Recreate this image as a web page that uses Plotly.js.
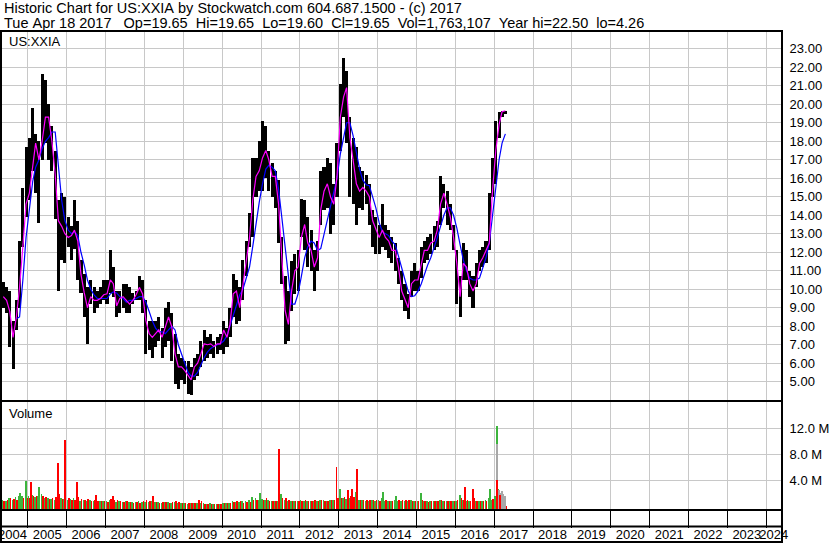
<!DOCTYPE html>
<html><head><meta charset="utf-8">
<script src="https://cdn.plot.ly/plotly-3.0.1.min.js"></script>
<style>html,body{margin:0;padding:0;background:#fff;} #chart{width:830px;height:543px;}</style>
</head><body><div id="chart"></div>
<script>
// ---------- data (monthly, first month = May 2004) ----------
const firstYear = 2004, firstMonth = 5;
const priceHigh = [
 10.4,10.1,9.9,8.3,9.4,12.6,15.5,17.7,
 18.2,19.8,18.4,18.0,21.65,21.3,20.0,18.8,17.5,14.8,15.2,15.0,
 13.9,13.4,14.8,13.7,11.6,10.8,10.1,10.5,10.1,9.9,10.1,10.5,
 10.5,12.1,11.2,9.9,9.9,10.3,10.3,10.1,9.8,9.9,10.7,10.5,
 9.4,8.3,8.3,8.3,8.5,7.9,9.0,9.3,8.7,7.6,6.5,6.3,
 6.1,6.1,5.8,6.3,6.5,7.2,7.8,7.4,7.6,7.2,7.4,7.6,
 8.3,7.9,9.0,10.8,10.5,10.1,11.6,12.6,14.1,17.1,17.1,18.0,
 19.1,18.8,17.5,16.8,16.4,15.9,12.8,10.7,9.9,11.5,11.9,12.1,
 14.9,14.8,13.9,13.2,12.1,12.6,16.4,16.6,17.1,16.8,15.7,17.9,
 21.1,22.5,21.8,19.3,18.2,17.7,16.6,16.4,16.2,15.7,14.3,13.9,
 13.5,14.6,13.5,13.2,12.8,12.5,11.7,11.0,10.3,9.75,11.0,11.4,
 11.0,12.3,12.6,12.8,13.0,13.4,13.7,16.1,15.7,15.3,14.6,13.5,
 12.1,10.7,12.5,12.1,11.0,10.7,11.4,12.1,12.3,12.6,15.2,17.1,
 19.1,19.6,19.65,19.65
];
const priceLow = [
 9.0,8.7,6.9,5.7,7.8,9.0,12.3,13.9,
 14.8,16.4,15.2,13.6,17.0,17.9,17.0,16.4,13.8,9.9,11.6,11.4,
 12.3,11.6,12.2,10.5,9.8,8.5,7.05,9.2,8.7,9.0,9.2,9.4,
 9.2,9.8,9.6,8.5,8.7,9.0,8.7,8.7,9.2,9.4,9.4,8.7,
 6.5,6.7,6.3,6.9,7.2,6.3,6.9,7.2,6.1,4.9,4.6,5.1,
 4.9,4.35,4.26,5.1,5.3,5.8,6.1,6.3,6.5,6.3,6.5,6.7,
 6.5,6.9,7.4,8.5,8.1,8.3,9.4,10.7,12.3,12.8,15.0,15.3,
 15.3,16.0,15.3,15.0,14.4,12.5,10.3,7.05,7.2,8.85,9.75,9.9,
 12.8,12.1,11.2,11.0,9.9,11.0,13.5,14.3,14.4,13.0,13.5,15.0,
 17.5,19.3,17.9,15.0,14.6,13.5,14.4,14.3,14.6,13.5,12.3,11.9,
 11.9,12.3,12.1,11.7,11.4,11.0,10.3,9.4,8.85,8.4,9.6,9.9,
 9.9,10.6,11.4,11.6,11.9,12.1,12.3,13.5,14.4,13.5,13.2,12.1,
 9.2,8.5,10.5,10.5,9.6,9.0,10.1,11.0,11.2,11.4,12.1,15.0,
 15.7,18.2,19.3,19.5
];
const maFast = [
 9.6,9.4,8.8,7.4,8.5,10.1,12.3,14.6,
 15.2,16.6,17.9,17.0,18.0,19.3,19.3,18.0,16.2,13.7,13.4,13.0,
 12.8,12.9,13.2,12.6,10.8,9.8,9.0,9.6,9.4,9.4,9.5,9.7,
 9.75,10.5,10.3,9.1,9.5,9.6,9.4,9.2,9.4,9.7,10.1,9.75,
 8.3,7.6,7.4,7.6,7.8,7.4,7.95,8.5,7.95,6.5,5.8,5.8,
 5.6,5.3,5.1,5.8,6.0,6.5,7.05,7.0,7.05,6.9,7.05,7.05,
 7.8,7.4,8.1,9.75,9.9,9.0,10.3,11.4,12.8,14.8,16.1,16.4,
 17.1,17.5,17.0,16.1,16.1,14.6,11.9,8.85,8.1,9.9,11.0,11.2,
 12.8,13.5,12.5,12.1,11.2,11.7,14.3,15.3,15.7,15.0,14.6,16.1,
 19.3,20.4,20.9,18.2,17.0,15.7,15.3,15.5,15.3,15.0,13.7,13.2,
 12.8,13.2,12.8,12.6,12.1,12.1,11.2,9.9,9.4,9.0,10.3,10.5,
 10.5,11.4,12.1,12.1,12.5,12.6,13.2,14.6,15.2,14.6,13.9,12.8,
 11.4,9.6,11.4,11.2,10.3,9.9,10.3,11.4,11.7,12.1,12.5,15.3,
 17.5,18.9,19.6,19.65
];
const maSlow = [
 null,null,null,null,8.4,8.5,10.5,12.8,
 14.3,15.8,16.6,17.0,17.6,18.0,18.2,18.5,18.5,16.6,14.8,13.7,
 13.2,13.0,13.1,12.9,12.0,11.3,10.5,10.0,9.7,9.5,9.5,9.5,
 9.5,9.75,9.85,9.8,9.6,9.5,9.3,9.4,9.4,9.5,9.6,9.6,
 9.3,8.8,8.3,7.9,7.7,7.7,7.6,7.8,8.0,7.8,7.0,6.5,
 6.0,5.5,5.3,5.3,5.5,5.9,6.3,6.6,6.8,6.9,7.0,7.05,
 7.2,7.5,8.0,8.6,9.2,9.7,10.0,10.6,11.2,12.3,13.6,14.7,
 15.7,16.5,16.7,16.6,16.4,15.4,13.9,12.2,10.7,9.2,9.2,9.75,
 10.7,11.7,12.3,12.6,12.5,12.1,12.2,13.0,13.8,14.5,15.2,16.0,
 17.3,18.2,19.0,19.0,18.3,17.4,16.5,15.9,15.65,15.6,15.0,14.4,
 13.6,13.1,13.0,12.9,12.6,12.4,11.8,11.1,10.5,9.9,9.6,9.65,
 9.9,10.3,10.8,11.3,11.7,12.2,12.8,13.4,14.0,14.4,14.4,14.0,
 13.3,12.4,11.6,11.0,10.6,10.5,10.5,10.6,11.1,11.7,12.5,14.0,
 15.6,17.0,17.9,18.4
];
// volume, millions (typical level of up days / down days in each month)
const volUp = [
 0.9,0.8,1.2,1.0,1.4,1.6,1.5,1.8,
 1.5,1.7,1.4,1.6,1.9,1.3,1.2,1.1,1.0,1.4,1.2,1.1,
 1.0,1.1,1.3,1.0,0.8,0.9,0.8,0.9,0.8,0.9,0.8,0.7,
 0.7,0.9,0.8,0.6,0.7,0.6,0.7,0.6,0.6,0.6,0.7,0.6,
 0.6,0.6,0.7,0.6,0.6,0.5,0.6,0.6,0.5,0.6,0.5,0.4,
 0.4,0.3,0.4,0.4,0.4,0.4,0.4,0.3,0.4,0.3,0.3,0.3,
 0.5,0.4,0.5,0.8,0.6,0.6,0.7,0.8,0.9,1.4,1.2,1.0,
 1.1,1.0,0.9,0.8,0.8,0.7,0.9,1.0,0.8,0.8,0.7,0.7,
 0.9,0.8,0.7,0.7,0.7,0.8,1.0,0.9,0.8,0.9,0.9,1.0,
 1.5,1.3,1.1,1.2,1.0,1.3,0.9,0.9,0.8,0.8,0.9,0.8,
 0.9,1.2,0.8,0.8,0.7,0.9,0.7,0.8,0.7,0.8,0.9,0.8,
 0.7,1.1,0.8,0.8,0.7,0.7,0.8,0.9,0.8,0.8,0.7,0.7,
 0.8,1.0,0.9,0.8,0.7,0.8,0.7,0.7,0.8,0.9,1.2,1.0,
 1.5,1.2,0,0
];
const volDown = [
 0.7,0.9,1.3,1.1,0.9,1.0,1.2,1.3,
 1.3,1.5,1.6,1.3,1.5,1.4,1.1,1.3,1.4,1.8,1.1,1.6,
 1.2,0.9,1.0,1.4,1.1,0.9,1.1,0.8,1.0,0.8,0.7,0.8,
 0.6,1.1,1.0,0.9,0.7,0.6,0.7,0.6,0.5,0.6,0.5,0.7,
 0.9,0.7,0.8,0.6,0.5,0.6,0.6,0.5,0.6,0.7,0.6,0.4,
 0.4,0.4,0.4,0.4,0.4,0.7,0.3,0.3,0.3,0.3,0.3,0.3,
 0.5,0.4,0.4,0.6,0.8,0.7,0.5,0.6,0.6,0.9,1.0,1.0,
 1.0,1.2,0.8,0.8,0.8,1.1,1.2,1.2,0.9,0.8,0.8,0.7,
 0.8,0.9,0.8,0.8,0.9,0.8,0.9,0.8,0.8,1.0,0.9,1.2,
 1.3,1.4,1.6,1.5,1.4,1.6,1.0,0.9,1.0,1.0,1.0,0.9,
 0.8,0.9,0.9,0.8,0.8,0.7,0.9,0.9,0.9,1.0,0.7,0.8,
 0.8,0.9,0.7,0.6,0.7,0.7,0.7,0.9,0.8,0.7,0.7,0.8,
 1.0,1.2,1.0,0.9,0.8,1.2,0.8,0.8,0.7,0.8,1.1,1.1,
 1.2,1.0,0,0
];
const spikeUpDates = ['2004-10-20','2004-12-15','2005-04-12','2010-12-20','2011-07-05','2013-01-08','2013-06-10','2014-02-20','2014-06-25','2015-02-15','2016-02-10','2016-11-20','2017-01-30','2017-02-08'];
const spikeUpVols  = [2.0,3.9,3.0,2.0,1.9,2.7,2.2,2.1,1.6,2.0,1.7,2.6,12.3,2.6];
const spikeDownDates = ['2005-02-01','2005-10-10','2005-12-18','2006-04-10','2006-10-01','2007-03-10','2008-03-20','2009-06-01','2011-06-18','2012-12-10','2013-03-28','2013-05-05','2013-06-25','2016-03-28','2016-06-18','2017-01-30','2017-02-20'];
const spikeDownVols  = [3.7,6.7,10.2,3.7,1.7,1.6,1.6,1.0,8.8,6.0,2.4,2.6,5.7,2.9,2.6,4.0,1.7];
const grayDates = ['2017-01-30','2017-02-14','2017-02-28','2017-03-12','2017-03-26','2017-04-08'];
const grayVols  = [9.5,2.4,2.0,2.3,1.8,1.6];

const priceTicks = [5,6,7,8,9,10,11,12,13,14,15,16,17,18,19,20,21,22,23];
const volTicks = [4,8,12];
const yearLabels = ['2004','2005','2006','2007','2008','2009','2010','2011','2012','2013','2014','2015','2016','2017','2018','2019','2020','2021','2022','2023','2024'];
const yearLabelDates = ['2004-08-10','2005-07-02','2006-07-02','2007-07-02','2008-07-02','2009-07-02','2010-07-02','2011-07-02','2012-07-02','2013-07-02','2014-07-02','2015-07-02','2016-07-02','2017-07-02','2018-07-02','2019-07-02','2020-07-02','2021-07-02','2022-07-02','2023-07-02','2024-03-10'];
const headerLine1 = 'Historic Chart for US:XXIA by Stockwatch.com 604.687.1500 - (c) 2017';
const headerLine2 = 'Tue Apr 18 2017   Op=19.65  Hi=19.65  Lo=19.60  Cl=19.65  Vol=1,763,107  Year hi=22.50  lo=4.26';

// ---------- helpers ----------
function monthDate(i, day){
  const mi = firstMonth - 1 + i;
  const y = firstYear + Math.floor(mi/12), m = mi%12 + 1;
  return y + '-' + String(m).padStart(2,'0') + '-' + String(day).padStart(2,'0');
}
const DAY = 86400000;
const VOL_MIN = -0.46, VOL_MAX = 16.05;
const mid = priceHigh.map((_, i) => monthDate(i, 15));
const upX = volUp.map((_, i) => monthDate(i, 8));
const dnX = volDown.map((_, i) => monthDate(i, 22));
const M = 1e6;
const regular = 'Liberation Sans, Arial, sans-serif';

const traces = [
  {type:'bar', x:mid, y:priceHigh.map((h,i)=>h-priceLow[i]), base:priceLow, width:29*DAY,
   marker:{color:'#000', line:{width:0}}, xaxis:'x', yaxis:'y', hoverinfo:'skip'},
  {type:'scatter', mode:'lines', x:mid, y:maSlow, line:{color:'#0000ff', width:1.2}, xaxis:'x', yaxis:'y', connectgaps:false, hoverinfo:'skip'},
  {type:'scatter', mode:'lines', x:mid, y:maFast, line:{color:'#ff00ff', width:1.2}, xaxis:'x', yaxis:'y', hoverinfo:'skip'},
  {type:'bar', x:upX, y:volUp.map(v=>v*M - VOL_MIN*M), base:VOL_MIN*M, width:14*DAY, marker:{color:'#3cb43c', line:{width:0}}, xaxis:'x2', yaxis:'y2', hoverinfo:'skip'},
  {type:'bar', x:dnX, y:volDown.map(v=>v*M - VOL_MIN*M), base:VOL_MIN*M, width:14*DAY, marker:{color:'#ff0000', line:{width:0}}, xaxis:'x2', yaxis:'y2', hoverinfo:'skip'},
  {type:'bar', x:spikeUpDates, y:spikeUpVols.map(v=>v*M - VOL_MIN*M), base:VOL_MIN*M, width:18*DAY, marker:{color:'#3cb43c', line:{width:0}}, xaxis:'x2', yaxis:'y2', hoverinfo:'skip'},
  {type:'bar', x:grayDates, y:grayVols.map(v=>v*M - VOL_MIN*M), base:VOL_MIN*M, width:18*DAY, marker:{color:'#a8a8a8', line:{width:0}}, xaxis:'x2', yaxis:'y2', hoverinfo:'skip'},
  {type:'bar', x:spikeDownDates, y:spikeDownVols.map(v=>v*M - VOL_MIN*M), base:VOL_MIN*M, width:18*DAY, marker:{color:'#ff0000', line:{width:0}}, xaxis:'x2', yaxis:'y2', hoverinfo:'skip'}
];

const PLOT_BOTTOM = 509, PLOT_H = 477;
const py = p => (PLOT_BOTTOM - p) / PLOT_H;
const gridc = '#c8c8c8';
const tickFont = {family:regular, size:13, color:'#000'};
const layout = {
  width:830, height:543,
  margin:{l:2, r:49, t:32, b:34, pad:0},
  paper_bgcolor:'#fff', plot_bgcolor:'#fff',
  showlegend:false, barmode:'overlay', bargap:0,
  font:{family:regular, color:'#000'},
  xaxis:{type:'date', range:['2004-05-03','2024-05-18'], anchor:'y', showticklabels:false, ticks:'',
         tick0:'2005-01-01', dtick:'M12', showgrid:true, gridcolor:gridc, gridwidth:1,
         showline:true, linecolor:'#000', linewidth:2, mirror:true, zeroline:false},
  xaxis2:{type:'date', matches:'x', anchor:'y2', tickmode:'array', tickvals:yearLabelDates, ticktext:yearLabels,
          ticks:'', showgrid:false, ticklabelstandoff:12, ticklabeloverflow:'allow', tickangle:0,
          tickfont:tickFont,
          minor:{tick0:'2005-01-01', dtick:'M12', showgrid:true, gridcolor:gridc, gridwidth:1, ticks:'outside', ticklen:17, tickcolor:'#000', tickwidth:1},
          showline:true, linecolor:'#000', linewidth:2, mirror:true, zeroline:false},
  yaxis:{domain:[py(400),1], range:[4.012,23.907], side:'right', tickmode:'array', tickvals:priceTicks,
         ticktext:priceTicks.map(v=>v.toFixed(2)), ticks:'', ticklabelstandoff:4,
         tickfont:tickFont,
         showgrid:true, gridcolor:gridc, gridwidth:1, showline:true, linecolor:'#000', linewidth:2, mirror:true, zeroline:false},
  yaxis2:{domain:[0,py(402)], range:[VOL_MIN*M, VOL_MAX*M], side:'right', tickmode:'array', tickvals:volTicks.map(v=>v*M),
          ticktext:volTicks.map(v=>v.toFixed(1)+' M'), ticks:'', ticklabelstandoff:4,
          tickfont:tickFont,
          showgrid:true, gridcolor:gridc, gridwidth:1, showline:true, linecolor:'#000', linewidth:2, mirror:true, zeroline:false},
  shapes:[
    {type:'line', xref:'paper', yref:'paper', x0:-0.003, x1:1.002, y0:py(526.5), y1:py(526.5), line:{color:'#000', width:2}},
    {type:'line', xref:'paper', yref:'paper', x0:-0.003, x1:1.002, y0:py(542), y1:py(542), line:{color:'#000', width:2}},
    {type:'line', xref:'paper', yref:'paper', x0:1.0013, x1:1.0013, y0:py(543), y1:0, line:{color:'#000', width:2}},
    {type:'line', xref:'paper', yref:'paper', x0:-0.0013, x1:-0.0013, y0:py(543), y1:0, line:{color:'#000', width:2}}
  ],
  annotations:[
    {xref:'paper', yref:'paper', x:0, y:py(8.5), xanchor:'left', yanchor:'middle', showarrow:false, text:headerLine1.replace(/ /g,'\u00a0'), font:{family:regular, size:14.5, color:'#000'}},
    {xref:'paper', yref:'paper', x:0, y:py(23.5), xanchor:'left', yanchor:'middle', showarrow:false, text:headerLine2.replace(/ /g,'\u00a0'), font:{family:regular, size:14.5, color:'#000'}},
    {xref:'paper', yref:'paper', x:0.006, y:py(41), xanchor:'left', yanchor:'middle', showarrow:false, text:'US:XXIA', font:{family:regular, size:13, color:'#000'}},
    {xref:'paper', yref:'paper', x:0.006, y:py(413), xanchor:'left', yanchor:'middle', showarrow:false, text:'Volume', font:{family:regular, size:13, color:'#000'}}
  ]
};
Plotly.newPlot('chart', traces, layout, {staticPlot:true, displayModeBar:false});
</script></body></html>
